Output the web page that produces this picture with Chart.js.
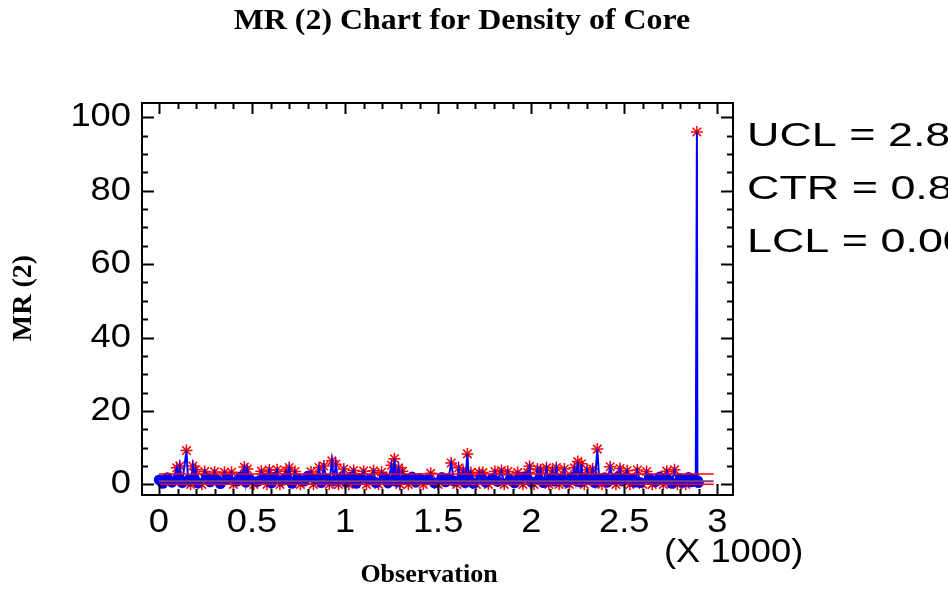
<!DOCTYPE html>
<html>
<head>
<meta charset="utf-8">
<script src="https://cdn.jsdelivr.net/npm/chart.js@4.4.1/dist/chart.umd.min.js"></script>
<style>
  body { margin: 0; background: #fff; }
  #box { width: 948px; height: 590px; }
</style>
</head>
<body>
<div id="box"><canvas id="grafico" width="948" height="590"></canvas></div>
<script>
// MR(2) values (observation number, moving range)
const obsNo = [
  2, 20, 45, 70, 96, 104, 112, 125, 148, 156, 170, 182, 190, 198, 210, 230, 246, 255, 275, 299,
  310, 330, 352, 365, 390, 400, 420, 440, 459, 467, 475, 490, 510, 530, 550, 565, 580, 593, 605, 620,
  635, 650, 665, 683, 690, 700, 715, 731, 745, 760, 780, 800, 817, 830, 845, 860, 872, 886, 900, 915,
  929, 940, 950, 965, 978, 993, 1005, 1020, 1033, 1046, 1060, 1080, 1100, 1115, 1130, 1153, 1165, 1180, 1196, 1210,
  1230, 1249, 1258, 1265, 1275, 1287, 1295, 1308, 1320, 1340, 1360, 1380, 1400, 1420, 1440, 1460, 1480, 1500, 1520, 1540,
  1555, 1570, 1585, 1600, 1610, 1620, 1634, 1645, 1657, 1665, 1676, 1690, 1705, 1720, 1730, 1740, 1755, 1770, 1790, 1805,
  1820, 1840, 1855, 1874, 1890, 1910, 1927, 1940, 1955, 1968, 1981, 1991, 2000, 2015, 2034, 2042, 2050, 2065, 2082, 2095,
  2105, 2114, 2125, 2135, 2150, 2160, 2178, 2190, 2205, 2218, 2232, 2240, 2250, 2260, 2270, 2278, 2285, 2293, 2300, 2315,
  2330, 2342, 2355, 2365, 2380, 2395, 2410, 2424, 2440, 2455, 2465, 2477, 2490, 2500, 2515, 2530, 2545, 2557, 2570, 2585,
  2600, 2620, 2635, 2650, 2670, 2690, 2710, 2728, 2740, 2755, 2770, 2785, 2800, 2815, 2830, 2845, 2860, 2875, 2884, 2890,
  2893, 2898
];
const mrValue = [
  1.2, 0.3, 1.8, 0.6, 4.5, 1.4, 5.0, 0.5, 9.2, 1.1, 0.0, 5.0, 1.6, 4.0, 0.4, 0.0, 3.5, 1.9, 0.7, 3.4,
  1.2, 0.2, 3.3, 1.5, 3.3, 0.0, 0.9, 2.1, 4.7, 0.6, 4.2, 1.3, 0.0, 0.8, 3.6, 1.7, 0.0, 3.9, 0.4, 1.9,
  4.0, 0.0, 1.1, 3.6, 1.5, 4.6, 0.3, 3.5, 1.6, 0.0, 0.9, 2.2, 3.4, 0.0, 1.3, 4.6, 0.5, 5.0, 1.4, 0.0,
  6.4, 1.0, 5.5, 0.0, 1.8, 4.2, 0.6, 0.0, 2.0, 3.8, 0.3, 1.5, 3.6, 0.0, 1.2, 3.7, 0.5, 0.0, 3.3, 1.7,
  0.4, 5.2, 1.1, 7.0, 0.8, 4.5, 0.0, 3.6, 1.3, 0.0, 2.0, 0.6, 1.6, 0.0, 1.2, 3.0, 0.4, 0.0, 1.9, 0.7,
  1.5, 5.8, 0.9, 0.0, 4.5, 1.2, 3.8, 0.5, 8.3, 1.4, 3.2, 0.3, 0.0, 3.2, 1.8, 3.2, 0.6, 0.0, 1.5, 3.5,
  0.8, 3.8, 0.0, 3.5, 1.1, 0.4, 3.2, 1.7, 0.0, 2.1, 3.2, 4.9, 0.7, 0.0, 4.2, 1.3, 4.0, 0.5, 4.5, 0.0,
  1.6, 3.8, 0.9, 4.6, 0.0, 1.4, 4.2, 0.6, 0.0, 1.9, 4.5, 1.0, 6.2, 0.7, 5.6, 1.1, 0.0, 1.6, 4.0, 1.2,
  4.2, 0.5, 9.6, 1.5, 0.0, 1.8, 0.6, 4.8, 1.3, 0.0, 2.0, 4.3, 0.9, 1.7, 3.7, 0.0, 1.4, 0.6, 3.9, 0.5,
  0.0, 3.5, 1.6, 0.0, 0.8, 2.0, 0.0, 3.6, 1.1, 0.3, 4.0, 0.0, 1.5, 0.6, 0.0, 1.9, 0.7, 1.3, 0.9, 96.0,
  1.0, 0.5
];

// control limits
const UCL = 2.84;
const CTR = 0.87;
const LCL = 0.0;
const limitObs = [0, 2980];
const limitText = ['UCL = 2.84', 'CTR = 0.87', 'LCL = 0.00'];

// axis ticks
const xTickVals = [0, 500, 1000, 1500, 2000, 2500, 3000];
const xTickLabels = ['0', '0.5', '1', '1.5', '2', '2.5', '3'];
const yTickVals = [0, 20, 40, 60, 80, 100];

const pontos = obsNo.map((o, i) => ({ x: o, y: mrValue[i] }));
const foraControle = pontos.filter(p => p.y > UCL || p.y <= LCL);
const linhaLimite = (v) => limitObs.map(o => ({ x: o, y: v }));

// texto esticado na horizontal, como no original
const escreve = (ctx, txt, x, y, font, align, sx, rot) => {
  ctx.save();
  ctx.font = font;
  ctx.fillStyle = '#000';
  ctx.textBaseline = 'middle';
  ctx.textAlign = align;
  ctx.translate(x, y);
  if (rot) ctx.rotate(rot);
  ctx.scale(sx, 1);
  ctx.fillText(txt, 0, 0);
  ctx.restore();
};

const moldura = {
  id: 'moldura',
  afterDraw(chart) {
    const ctx = chart.ctx;
    const a = chart.chartArea;
    const xs = chart.scales.x, ys = chart.scales.y;
    ctx.save();
    ctx.strokeStyle = '#000';
    ctx.lineWidth = 2;
    ctx.strokeRect(a.left, a.top, a.right - a.left, a.bottom - a.top);
    ctx.beginPath();
    // x ticks, minor every 100, major every 500
    for (let v = 0; v <= 3000; v += 100) {
      const px = Math.round(xs.getPixelForValue(v)) + 0.5;
      const len = v % 500 === 0 ? 11 : 6;
      ctx.moveTo(px, a.bottom); ctx.lineTo(px, a.bottom - len);
      ctx.moveTo(px, a.top); ctx.lineTo(px, a.top + len);
    }
    // y ticks, minor every 5, major every 20
    for (let v = 0; v <= 100; v += 5) {
      const py = Math.round(ys.getPixelForValue(v)) + 0.5;
      const len = v % 20 === 0 ? 12 : 6;
      ctx.moveTo(a.left, py); ctx.lineTo(a.left + len, py);
      ctx.moveTo(a.right, py); ctx.lineTo(a.right - len, py);
    }
    ctx.stroke();
    ctx.restore();

    const sans = '33px "Liberation Sans", Arial, sans-serif';
    xTickVals.forEach((v, i) => escreve(ctx, xTickLabels[i], xs.getPixelForValue(v), 523, sans, 'center', 1.1));
    yTickVals.forEach(v => escreve(ctx, String(v), 131, ys.getPixelForValue(v), sans, 'right', 1.1));
    escreve(ctx, '(X 1000)', 664, 553, sans, 'left', 1.1);
    limitText.forEach((t, i) => escreve(ctx, t, 747, 137 + i * 53, sans, 'left', 1.36));

    escreve(ctx, 'MR (2) Chart for Density of Core', 462, 22, 'bold 29px "Liberation Serif", serif', 'center', 1.1);
    escreve(ctx, 'Observation', 429, 575, 'bold 26px "Liberation Serif", serif', 'center', 1.0);
    escreve(ctx, 'MR (2)', 24, 298, 'bold 28px "Liberation Serif", serif', 'center', 1.0, -Math.PI / 2);
  }
};

new Chart(document.getElementById('grafico').getContext('2d'), {
  type: 'line',
  data: {
    datasets: [
      { data: linhaLimite(UCL), borderColor: '#ff0000', borderWidth: 1.5, pointRadius: 0 },
      { data: linhaLimite(CTR), borderColor: '#804080', borderWidth: 2, pointRadius: 0 },
      { data: linhaLimite(LCL), borderColor: '#ff0000', borderWidth: 1.5, pointRadius: 0 },
      {
        data: pontos,
        borderColor: '#0000ff',
        borderWidth: 2,
        pointRadius: pontos.map(p => (p.y > UCL || p.y <= LCL) ? 0 : 5.5),
        pointBackgroundColor: '#0000ff',
        pointBorderWidth: 0
      },
      {
        data: foraControle,
        showLine: false,
        pointStyle: 'star',
        pointRadius: 6,
        borderColor: '#ff0000',
        pointBorderColor: '#ff0000',
        pointBorderWidth: 1.5
      }
    ]
  },
  options: {
    responsive: false,
    animation: false,
    events: [],
    layout: { padding: { left: 142, right: 215, top: 103, bottom: 95 } },
    plugins: { legend: { display: false }, tooltip: { enabled: false } },
    scales: {
      x: { type: 'linear', display: false, min: -91, max: 3084 },
      y: { type: 'linear', display: false, min: -2.9, max: 103.9 }
    }
  },
  plugins: [moldura]
});
</script>
</body>
</html>
